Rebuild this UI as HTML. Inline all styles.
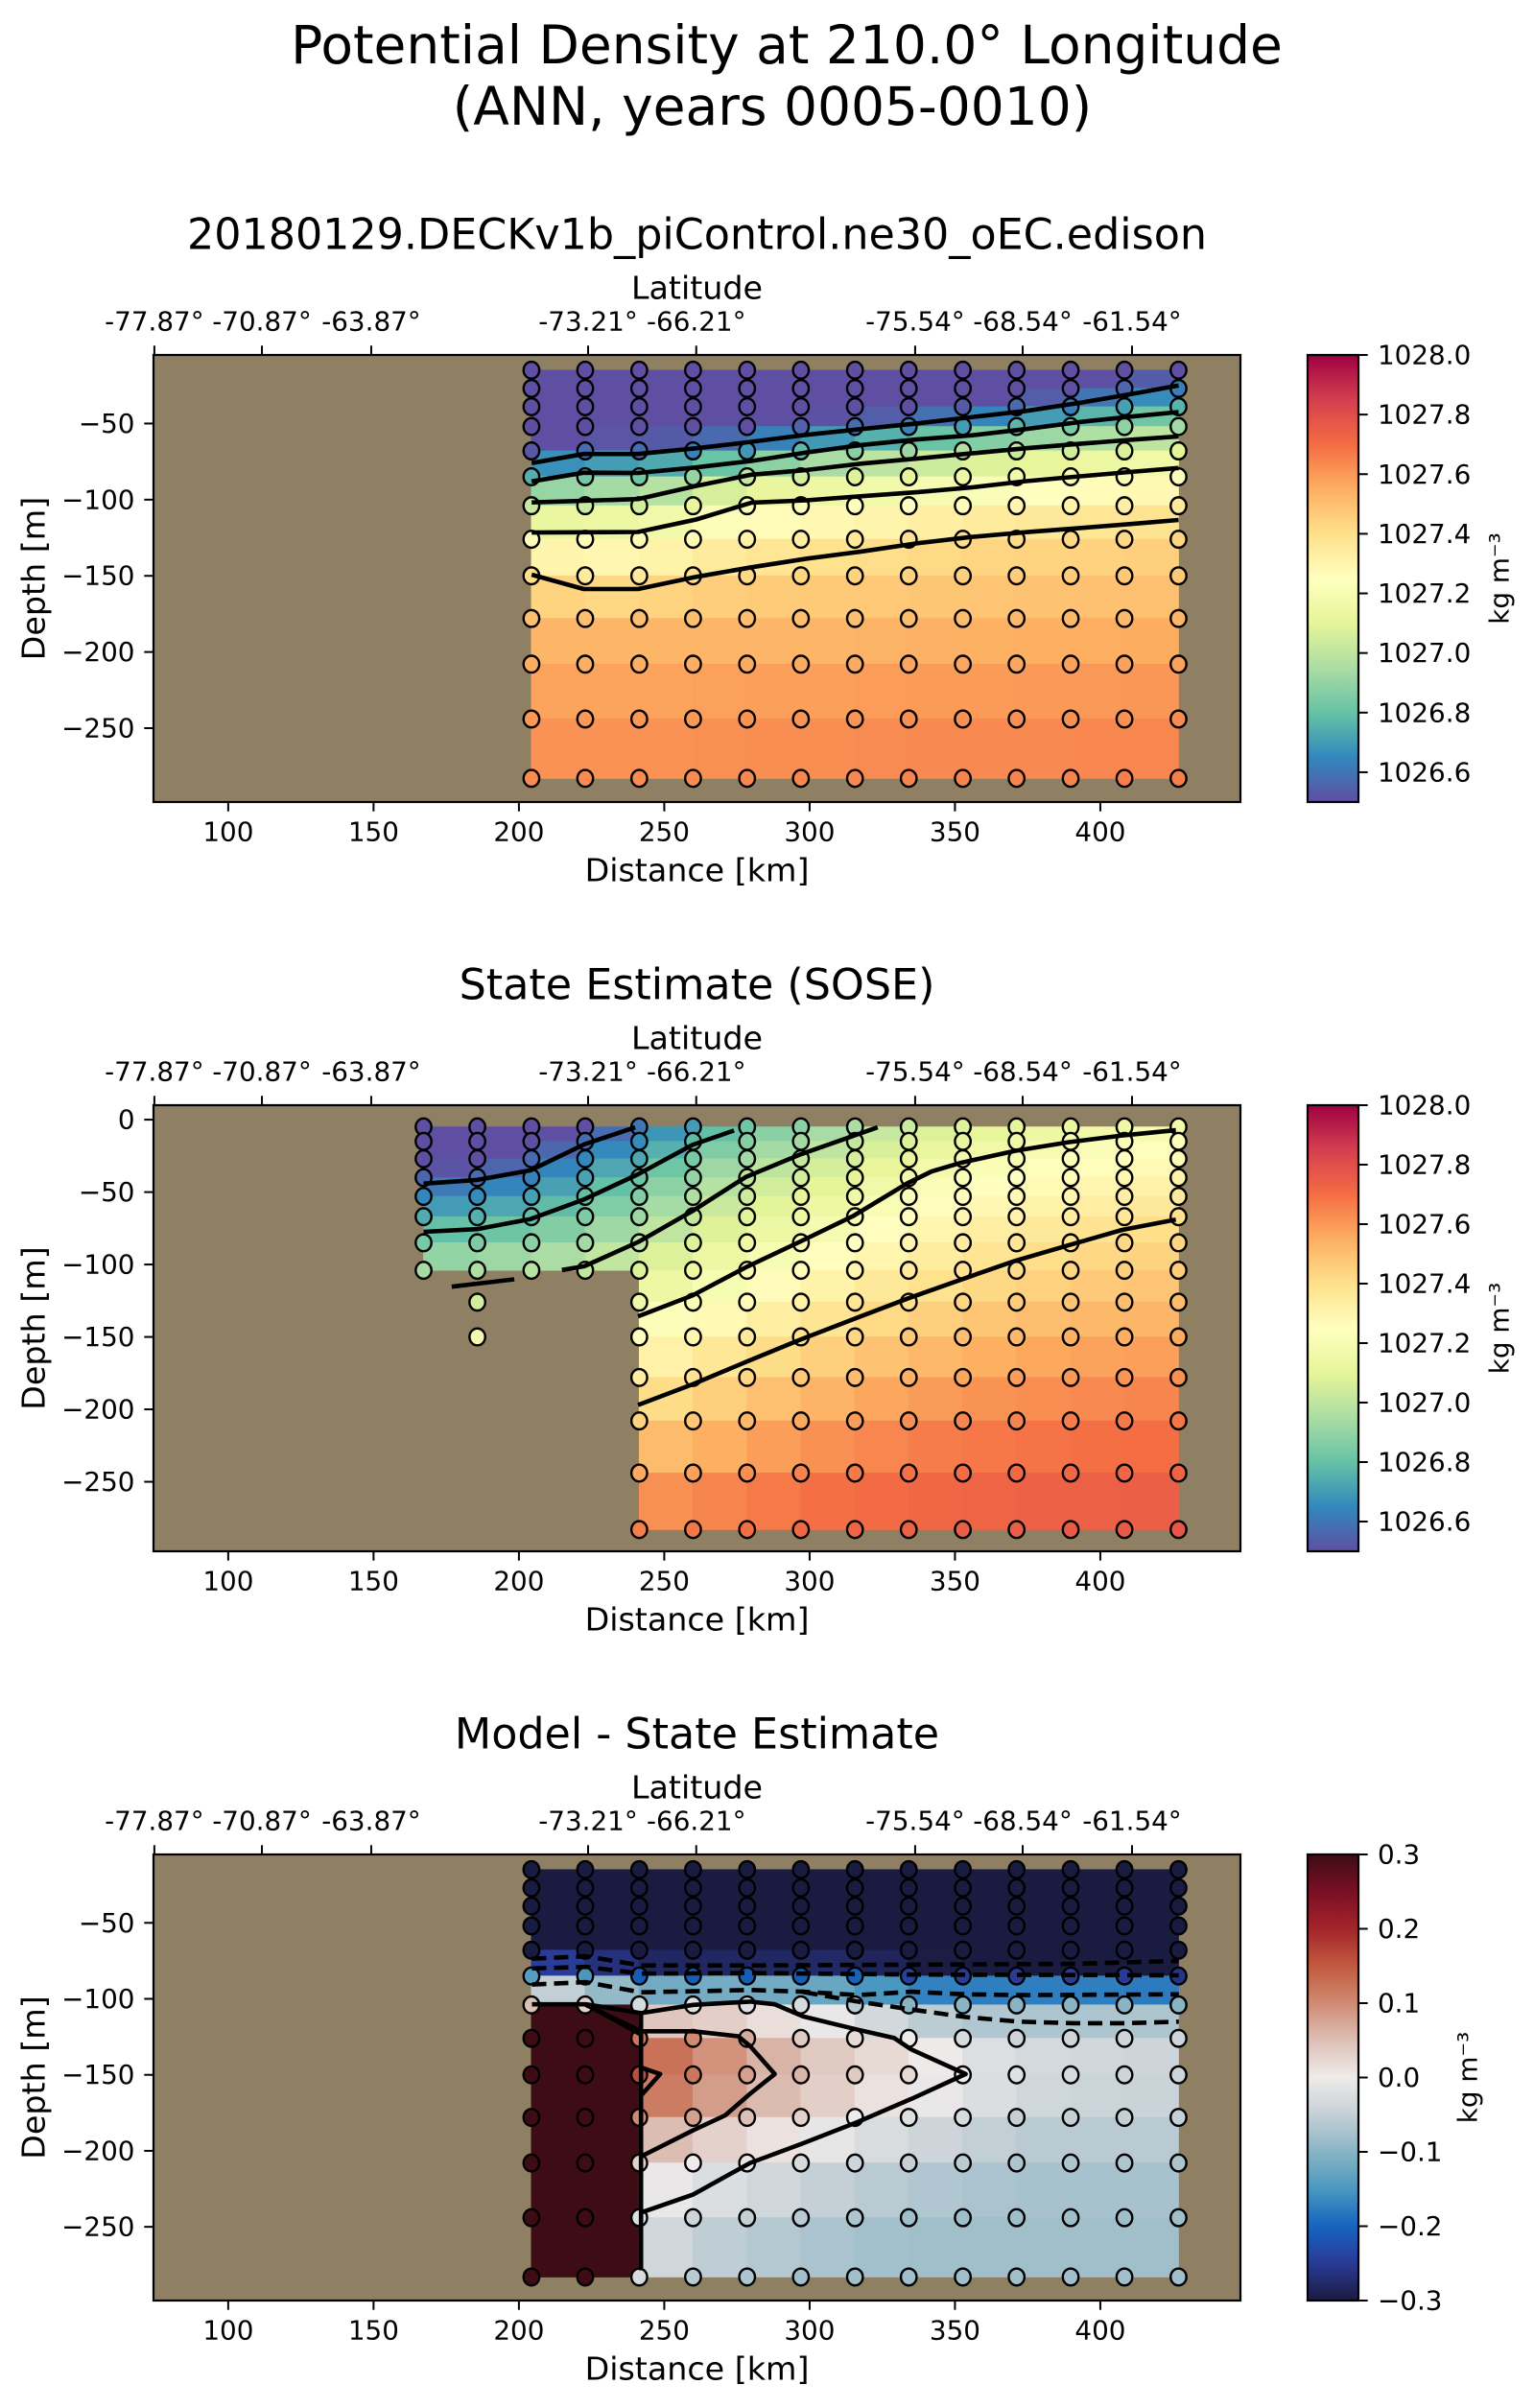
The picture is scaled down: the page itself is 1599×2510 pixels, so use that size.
<!DOCTYPE html>
<html><head><meta charset="utf-8"><style>
html,body{margin:0;padding:0;background:#fff;}
svg{display:block;font-family:"DejaVu Sans","Liberation Sans",sans-serif;}
</style></head><body>
<svg id="fig" width="1599" height="2510" viewBox="0 0 1599 2510" xmlns="http://www.w3.org/2000/svg">
<rect x="0" y="0" width="1599" height="2510" fill="#ffffff"/>
<text x="820" y="47" font-size="55" text-anchor="middle" dominant-baseline="central">Potential Density at 210.0° Longitude</text>
<text x="805" y="111" font-size="55" text-anchor="middle" dominant-baseline="central">(ANN, years 0005-0010)</text>
</svg>
<script>
// ---------- data ----------
const modelDistanceKm = [204.3,222.8,241.4,259.9,278.5,297.0,315.6,334.1,352.7,371.2,389.8,408.3,426.9];
const modelDepthM = [15,27,39,52,68,85,104,126,150,178,208,244,283];
const modelDensity = [ // per column profile
[1026.45,1026.45,1026.45,1026.45,1026.52,1026.75,1027.02,1027.24,1027.40,1027.50,1027.55,1027.60,1027.63],
[1026.45,1026.45,1026.45,1026.45,1026.58,1026.83,1027.03,1027.23,1027.35,1027.50,1027.55,1027.60,1027.63],
[1026.45,1026.45,1026.45,1026.45,1026.58,1026.83,1027.05,1027.23,1027.35,1027.50,1027.55,1027.60,1027.63],
[1026.45,1026.45,1026.45,1026.46,1026.63,1026.90,1027.12,1027.27,1027.39,1027.50,1027.55,1027.60,1027.63],
[1026.45,1026.45,1026.45,1026.50,1026.69,1027.01,1027.21,1027.31,1027.42,1027.50,1027.56,1027.61,1027.64],
[1026.45,1026.45,1026.45,1026.55,1026.78,1027.05,1027.22,1027.33,1027.43,1027.50,1027.56,1027.61,1027.64],
[1026.45,1026.45,1026.45,1026.58,1026.87,1027.08,1027.23,1027.36,1027.44,1027.50,1027.56,1027.61,1027.64],
[1026.45,1026.45,1026.49,1026.64,1026.92,1027.11,1027.25,1027.38,1027.44,1027.51,1027.57,1027.62,1027.65],
[1026.45,1026.45,1026.53,1026.70,1026.97,1027.14,1027.27,1027.40,1027.45,1027.51,1027.57,1027.62,1027.65],
[1026.45,1026.45,1026.57,1026.77,1027.02,1027.17,1027.30,1027.41,1027.46,1027.52,1027.57,1027.62,1027.65],
[1026.45,1026.50,1026.63,1026.84,1027.05,1027.20,1027.31,1027.42,1027.46,1027.52,1027.58,1027.62,1027.65],
[1026.45,1026.56,1026.71,1026.89,1027.07,1027.22,1027.33,1027.42,1027.47,1027.52,1027.58,1027.62,1027.66],
[1026.50,1026.62,1026.76,1026.93,1027.10,1027.24,1027.35,1027.43,1027.47,1027.53,1027.58,1027.63,1027.66]];

const soseDistanceKm = [167.2,185.7,204.3,222.8,241.4,259.9,278.5,297.0,315.6,334.1,352.7,371.2,389.8,408.3,426.9];
const soseDepthM = [5,15,27,40,53,67,85,104,126,150,178,208,244,283];
const soseDensity = [ // per column profile, null = land
[1026.45,1026.45,1026.45,1026.56,1026.65,1026.74,1026.84,1026.94,null,null,null,null,null,null],
[1026.45,1026.45,1026.45,1026.58,1026.66,1026.75,1026.85,1026.96,1027.05,1027.18,null,null,null,null],
[1026.45,1026.45,1026.57,1026.63,1026.71,1026.79,1026.88,1026.98,null,null,null,null,null,null],
[1026.48,1026.58,1026.65,1026.72,1026.79,1026.85,1026.93,1027.01,null,null,null,null,null,null],
[1026.60,1026.66,1026.73,1026.81,1026.86,1026.92,1027.00,1027.08,1027.16,1027.25,1027.34,1027.44,1027.56,1027.66],
[1026.70,1026.78,1026.84,1026.90,1026.96,1027.01,1027.08,1027.14,1027.21,1027.29,1027.38,1027.47,1027.58,1027.68],
[1026.82,1026.87,1026.93,1027.00,1027.04,1027.09,1027.15,1027.20,1027.27,1027.35,1027.43,1027.52,1027.62,1027.70],
[1026.88,1026.93,1027.01,1027.05,1027.10,1027.14,1027.20,1027.26,1027.32,1027.39,1027.47,1027.56,1027.65,1027.72],
[1026.95,1027.01,1027.06,1027.10,1027.15,1027.20,1027.25,1027.30,1027.37,1027.43,1027.51,1027.59,1027.67,1027.73],
[1027.03,1027.08,1027.12,1027.18,1027.22,1027.26,1027.30,1027.35,1027.40,1027.47,1027.54,1027.62,1027.69,1027.74],
[1027.08,1027.12,1027.18,1027.22,1027.26,1027.29,1027.34,1027.38,1027.43,1027.50,1027.57,1027.64,1027.70,1027.75],
[1027.10,1027.15,1027.21,1027.25,1027.28,1027.32,1027.37,1027.41,1027.46,1027.52,1027.59,1027.65,1027.71,1027.75],
[1027.13,1027.19,1027.23,1027.27,1027.30,1027.34,1027.39,1027.43,1027.48,1027.54,1027.60,1027.66,1027.72,1027.76],
[1027.15,1027.21,1027.25,1027.29,1027.33,1027.37,1027.42,1027.45,1027.50,1027.55,1027.61,1027.67,1027.72,1027.76],
[1027.17,1027.23,1027.27,1027.31,1027.35,1027.39,1027.43,1027.46,1027.51,1027.56,1027.62,1027.68,1027.73,1027.77]];

const diffRows = [ // per depth row across modelDistanceKm
[-0.35,-0.35,-0.35,-0.35,-0.35,-0.35,-0.35,-0.35,-0.35,-0.35,-0.35,-0.35,-0.35],
[-0.35,-0.35,-0.35,-0.35,-0.35,-0.35,-0.35,-0.35,-0.35,-0.35,-0.35,-0.35,-0.35],
[-0.35,-0.35,-0.35,-0.35,-0.35,-0.35,-0.35,-0.35,-0.35,-0.35,-0.35,-0.35,-0.35],
[-0.35,-0.35,-0.35,-0.35,-0.35,-0.35,-0.35,-0.35,-0.35,-0.35,-0.35,-0.35,-0.35],
[-0.35,-0.35,-0.35,-0.35,-0.35,-0.35,-0.35,-0.35,-0.35,-0.35,-0.35,-0.35,-0.35],
[-0.14,-0.15,-0.21,-0.21,-0.21,-0.21,-0.20,-0.24,-0.25,-0.25,-0.25,-0.25,-0.26],
[0.05,0.03,-0.03,-0.02,-0.02,-0.03,-0.06,-0.10,-0.10,-0.10,-0.10,-0.10,-0.10],
[1.5,1.5,0.12,0.10,0.07,0.04,0.02,0.00,-0.03,-0.04,-0.04,-0.04,-0.04],
[1.5,1.5,0.16,0.12,0.08,0.06,0.04,0.02,0.00,-0.02,-0.03,-0.04,-0.04],
[1.5,1.5,0.10,0.08,0.05,0.03,0.00,-0.02,-0.03,-0.05,-0.05,-0.05,-0.05],
[1.5,1.5,0.03,0.00,-0.01,-0.03,-0.04,-0.05,-0.06,-0.07,-0.07,-0.07,-0.07],
[1.5,1.5,-0.02,-0.04,-0.05,-0.06,-0.07,-0.08,-0.08,-0.08,-0.08,-0.08,-0.08],
[1.5,1.5,-0.03,-0.06,-0.07,-0.08,-0.08,-0.08,-0.08,-0.08,-0.08,-0.08,-0.08]];

// contour polylines [km, depth]
const modelContour1 = [[204.4,-76],[222.3,-70],[241,-70],[261.2,-66.2],[280,-62],[299,-57.4],[317.9,-53.6],[336.8,-50],[355.6,-45.9],[374.5,-41.7],[393,-36.4],[412,-30.2],[426.9,-25]];
const modelContour2 = [[204.4,-88],[222.3,-82.3],[241,-82.5],[261,-78.8],[280,-74.6],[299,-69],[318,-64.1],[336.8,-60.5],[355.6,-57.8],[374.5,-53.6],[393,-49],[412,-45.2],[426.9,-42.5]];
const modelContour3 = [[204.4,-101.8],[241,-99.6],[261,-91],[280,-83.6],[299,-80.5],[318,-76.3],[336.8,-73.1],[355.6,-69.6],[374.5,-66.2],[393,-63.3],[412,-60.5],[426.9,-58.5]];
const modelContour4 = [[204.4,-121.6],[241,-121.2],[261,-113],[280,-101.9],[299,-100.4],[318,-97.7],[336.8,-95.1],[355.6,-92],[374.5,-87.8],[393,-84.7],[412,-81.5],[426.9,-79.2]];
const modelContour5 = [[204.4,-149.2],[222.3,-158.7],[241,-158.7],[261,-150.7],[280,-144.4],[299,-138.7],[318,-134],[336.8,-128.7],[355.6,-124.5],[374.5,-121.3],[393,-118.6],[412,-115.7],[426.9,-113.3]];

const soseContour1 = [[167.2,-44.2],[185.6,-41.6],[204,-35],[222.5,-17],[240,-5.3]];
const soseContour2 = [[167.2,-77.4],[185.6,-75.6],[204,-68.6],[222.5,-55],[241,-37.7],[259.6,-17.5],[274,-7.5]];
const soseContour3a = [[176.9,-115.3],[198.4,-110.2]];
const soseContour3b = [[214.8,-103.8],[222.5,-101.2],[241,-84.5],[259.6,-63.2],[278,-39.6],[296.6,-24.2],[315,-11.2],[323.4,-5.3]];
const soseContour4 = [[241,-135.8],[259.6,-121.5],[278,-102],[296.6,-84.3],[315,-66.5],[333.6,-44],[342,-35.7],[352,-29.8],[370.6,-21.5],[389,-15.6],[407.5,-10.9],[426,-7.3]];
const soseContour5 = [[241,-197],[259.6,-182.8],[278,-167.4],[296.6,-152],[315,-137.8],[333.6,-123.6],[352,-110.5],[370.6,-97.5],[389,-86.8],[407.5,-76.1],[426,-69]];

const diffNegContour1 = [[204.5,-73.6],[223,-72],[242,-78],[279.5,-78],[335,-77.5],[391,-77],[427,-75]];
const diffNegContour2 = [[204.5,-80],[223,-79],[242,-83.4],[279.5,-83],[335,-84],[427,-84.5]];
const diffNegContour3 = [[204.5,-90.6],[223,-89],[242,-95.7],[260,-95],[279.5,-94.2],[297.8,-95.3],[316.6,-97.5],[335,-95.3],[353.7,-97],[372,-97.5],[427,-97]];
const diffNegContour4 = [[297.8,-95.5],[316.6,-101.8],[335,-107],[353.7,-112],[372,-115],[391,-116],[409,-116],[427,-115]];
const diffPosContour1 = [[204.5,-103.6],[223,-103.6],[242,-109.4],[260,-104],[279.5,-101.8],[288,-103.6],[297.8,-111.6],[316.6,-120.3],[329,-125.7],[335,-133.3],[353.7,-149.5],[335,-165.8],[316.6,-181],[297.8,-195],[279.5,-208],[260,-228.7],[242,-240.6]];
const diffPosContour2 = [[223,-104],[242,-121.3],[260,-121.3],[275.4,-124.6],[279.5,-131],[288,-149.5],[279.5,-162.5],[271,-176.6],[260,-186.4],[242,-203.7]];
const diffPosContour3 = [[242,-145.2],[248.6,-149.5],[242,-163.6]];
const diffPosContour4 = [[242,-109],[242,-278.6]];
const diffPosContour5 = [[223,-103.6],[242,-123.5]];

const bottomTicks = [100,150,200,250,300,350,400];
const topTickKm = [74.6,111.6,149.2,223.8,261.0,336.3,373.3,410.9];
const topTickLabels = ["-77.87°","-70.87°","-63.87°","-73.21°","-66.21°","-75.54°","-68.54°","-61.54°"];
const depthTicksP1 = [-50,-100,-150,-200,-250];
const depthTicksP2 = [0,-50,-100,-150,-200,-250];
const densityCbarTicks = [1026.6,1026.8,1027.0,1027.2,1027.4,1027.6,1027.8,1028.0];
const diffCbarTicks = [-0.3,-0.2,-0.1,0.0,0.1,0.2,0.3];

// ---------- colormaps ----------
const spectral = ["#5e4fa2","#3288bd","#66c2a5","#abdda4","#e6f598","#ffffbf","#fee08b","#fdae61","#f46d43","#d53e4f","#9e0142"];
const balance = ["#1a1b40","#2a3a96","#1464bf","#4a98c0","#88b4c4","#c5d0d6","#efebea","#dcc0b6","#d08a72","#c25a3e","#a3242a","#7a0f25","#3d0c15"];
function hex(h){return [parseInt(h.substr(1,2),16),parseInt(h.substr(3,2),16),parseInt(h.substr(5,2),16)];}
function cmap(stops,t){t=Math.max(0,Math.min(1,t));const n=stops.length-1;let i=Math.min(n-1,Math.floor(t*n));const f=t*n-i;const a=hex(stops[i]),b=hex(stops[i+1]);
 return "rgb("+a.map((v,k)=>Math.round(v+(b[k]-v)*f)).join(",")+")";}
const densColor=v=>cmap(spectral,(v-1026.5)/1.5);
const diffColor=v=>cmap(balance,(v+0.3)/0.6);

// ---------- layout ----------
const NS="http://www.w3.org/2000/svg";
const svg=document.getElementById("fig");
const X0=160,X1=1293,KM0=74.3,KM1=448.2;
const xs=km=>X0+(km-KM0)/(KM1-KM0)*(X1-X0);
function mk(tag,attrs,parent){const e=document.createElementNS(NS,tag);for(const k in attrs)e.setAttribute(k,attrs[k]);(parent||svg).appendChild(e);return e;}
function txt(s,attrs,parent){const e=mk("text",attrs,parent);e.textContent=s;return e;}

const panels=[
 {key:"model",title:"20180129.DECKv1b_piControl.ne30_oEC.edison",top:370,bot:836,ymax:-5,ymin:-298.5,ticks:depthTicksP1},
 {key:"sose",title:"State Estimate (SOSE)",top:1152,bot:1617,ymax:10,ymin:-298,ticks:depthTicksP2},
 {key:"diff",title:"Model - State Estimate",top:1933,bot:2398,ymax:-5,ymin:-298.5,ticks:depthTicksP1}];

panels.forEach((p,pi)=>{
 const ys=d=>p.top+(p.ymax-d)/(p.ymax-p.ymin)*(p.bot-p.top);
 const g=mk("g",{});
 
 
 const clipId="clip"+pi;
 const cp=mk("clipPath",{id:clipId},g);mk("rect",{x:X0,y:p.top,width:X1-X0,height:p.bot-p.top},cp);
 const land=mk("rect",{x:X0,y:p.top,width:X1-X0,height:p.bot-p.top,fill:"#8f8064"},g);
 
 
 const plot=mk("g",{"clip-path":"url(#"+clipId+")"},g);
 let xsArr,dArr,val,col;
 if(p.key==="model"){xsArr=modelDistanceKm;dArr=modelDepthM;val=(i,j)=>modelDensity[i][j];col=densColor;}
 else if(p.key==="sose"){xsArr=soseDistanceKm;dArr=soseDepthM;val=(i,j)=>soseDensity[i][j];col=densColor;}
 else {xsArr=modelDistanceKm;dArr=modelDepthM;val=(i,j)=>diffRows[j][i];col=diffColor;}
 const cells=mk("g",{},plot);
 
 
 for(let i=0;i<xsArr.length-1;i++)for(let j=0;j<dArr.length-1;j++){
  const v=[val(i,j),val(i+1,j),val(i,j+1),val(i+1,j+1)];
  if(v.some(a=>a===null))continue;
  const c=col((v[0]+v[1]+v[2]+v[3])/4);
  const x=xs(xsArr[i]),x2=xs(xsArr[i+1]),y=ys(-dArr[j]),y2=ys(-dArr[j+1]);
  const r=mk("rect",{x:x,y:y,width:x2-x,height:y2-y,fill:c,stroke:c,"stroke-width":0.8},cells);
  
  
 }
 const pts=mk("g",{},plot);
 
 
 for(let i=0;i<xsArr.length;i++)for(let j=0;j<dArr.length;j++){
  const v=val(i,j);if(v===null)continue;
  const c=mk("ellipse",{cx:xs(xsArr[i]),cy:ys(-dArr[j]),rx:8.2,ry:8.8,fill:col(v),stroke:"#000","stroke-width":2.4},pts);
  
  
 }
 let lines;
 if(p.key==="model")lines=[[modelContour1,0],[modelContour2,0],[modelContour3,0],[modelContour4,0],[modelContour5,0]];
 else if(p.key==="sose")lines=[[soseContour1,0],[soseContour2,0],[soseContour3a,0],[soseContour3b,0],[soseContour4,0],[soseContour5,0]];
 else lines=[[diffNegContour1,1],[diffNegContour2,1],[diffNegContour3,1],[diffNegContour4,1],[diffPosContour1,0],[diffPosContour2,0],[diffPosContour3,0],[diffPosContour4,0],[diffPosContour5,0]];
 lines.forEach(([arr,dash])=>{
  const a={points:arr.map(q=>xs(q[0]).toFixed(1)+","+ys(q[1]).toFixed(1)).join(" "),fill:"none",stroke:"#000","stroke-width":4.6,"stroke-linejoin":"round"};
  if(dash)a["stroke-dasharray"]="15,8";
  const pl=mk("polyline",a,plot);
  
  
 });
 const sp=mk("rect",{x:X0,y:p.top,width:X1-X0,height:p.bot-p.top,fill:"none",stroke:"#000","stroke-width":2.2},g);
 
 
 bottomTicks.forEach(t=>{
  mk("line",{x1:xs(t),x2:xs(t),y1:p.bot,y2:p.bot+9.7,stroke:"#000","stroke-width":2},g);
  const l=txt(String(t),{x:xs(t),y:p.bot+31,"font-size":27.8,"text-anchor":"middle","dominant-baseline":"central"},g);
  
  
 });
 const xl=txt("Distance [km]",{x:(X0+X1)/2,y:p.bot+71,"font-size":33.3,"text-anchor":"middle","dominant-baseline":"central"},g);
 
 
 topTickKm.forEach((t,k)=>{
  mk("line",{x1:xs(t),x2:xs(t),y1:p.top,y2:p.top-9.7,stroke:"#000","stroke-width":2},g);
  const l=txt(topTickLabels[k],{x:xs(t),y:p.top-35,"font-size":27.8,"text-anchor":"middle","dominant-baseline":"central"},g);
  
  
 });
 const tl=txt("Latitude",{x:(X0+X1)/2,y:p.top-70,"font-size":33.3,"text-anchor":"middle","dominant-baseline":"central"},g);
 
 
 const tt=txt(p.title,{x:(X0+X1)/2,y:p.top-125,"font-size":44.4,"text-anchor":"middle","dominant-baseline":"central"},g);
 
 
 p.ticks.forEach(t=>{
  mk("line",{x1:X0,x2:X0-9.7,y1:ys(t),y2:ys(t),stroke:"#000","stroke-width":2},g);
  const l=txt(t===0?"0":"\u2212"+Math.abs(t),{x:X0-19.5,y:ys(t),"font-size":27.8,"text-anchor":"end","dominant-baseline":"central"},g);
  
  
 });
 const ymid=(p.top+p.bot)/2;
 const yl=txt("Depth [m]",{x:35,y:ymid,"font-size":33.3,"text-anchor":"middle","dominant-baseline":"central",transform:"rotate(-90 35 "+ymid+")"},g);
 
 
 const isDiff=p.key==="diff";
 const vmin=isDiff?-0.3:1026.5,vmax=isDiff?0.3:1028.0;
 const gid="grad"+pi;
 const lg=mk("linearGradient",{id:gid,x1:0,y1:1,x2:0,y2:0},g);
 for(let s=0;s<=40;s++){mk("stop",{offset:s/40,"stop-color":cmap(isDiff?balance:spectral,s/40)},lg);}
 const cb=mk("rect",{x:1363,y:p.top,width:53,height:p.bot-p.top,fill:"url(#"+gid+")",stroke:"#000","stroke-width":2.2},g);
 
 
 const cys=v=>p.bot-(v-vmin)/(vmax-vmin)*(p.bot-p.top);
 (isDiff?diffCbarTicks:densityCbarTicks).forEach(t=>{
  mk("line",{x1:1416,x2:1425.7,y1:cys(t),y2:cys(t),stroke:"#000","stroke-width":2},g);
  const s=isDiff?(t<0?"\u2212"+Math.abs(t).toFixed(1):t.toFixed(1)):t.toFixed(1);
  const l=txt(s,{x:1436,y:cys(t),"font-size":27.8,"dominant-baseline":"central"},g);
  
  
 });
 const kx=isDiff?1530:1563;
 const kl=txt("kg m\u207B\u00B3",{x:kx,y:ymid,"font-size":27.8,"text-anchor":"middle","dominant-baseline":"central",transform:"rotate(-90 "+kx+" "+ymid+")"},g);
 
 
});
</script>
</body></html>
